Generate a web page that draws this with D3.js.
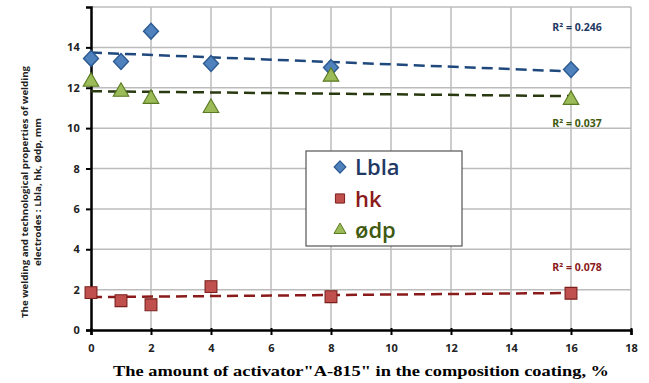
<!DOCTYPE html>
<html>
<head>
<meta charset="utf-8">
<script src="https://cdn.jsdelivr.net/npm/d3@7"></script>
<style>
  body { margin: 0; background: #fff; }
  text { font-family: "Open Sans", "DejaVu Sans", sans-serif; }
</style>
</head>
<body>
<svg id="chart" width="649" height="383"></svg>
<script>
// values
const amounts = [0, 1, 2, 4, 8, 16];
const lbla = [13.45, 13.3, 14.8, 13.2, 13.0, 12.9];
const hk = [1.85, 1.45, 1.25, 2.15, 1.65, 1.82];
const odp = [12.3, 11.8, 11.45, 11.0, 12.55, 11.4];
const r2Labels = ["R² = 0.246", "R² = 0.078", "R² = 0.037"];
const seriesNames = ["Lbla", "hk", "ødp"];
const xTicks = [0, 2, 4, 6, 8, 10, 12, 14, 16, 18];
const yTicks = [0, 2, 4, 6, 8, 10, 12, 14];

const svg = d3.select('#chart');
const margin = { top: 7, right: 18, bottom: 53, left: 91 };
const width = 649 - margin.left - margin.right;
const height = 383 - margin.top - margin.bottom;

const x = d3.scaleLinear().domain([0, 18]).range([margin.left, margin.left + width]);
const y = d3.scaleLinear().domain([0, 16]).range([margin.top + height, margin.top]);

// grid
const grid = svg.append('g');
grid.selectAll('.vg').data(d3.range(2, 19, 2)).enter().append('line')
  .attr('x1', d => x(d)).attr('x2', d => x(d))
  .attr('y1', y(0)).attr('y2', y(16))
  .attr('stroke', '#bcbcbc').attr('stroke-width', 1.5);
grid.selectAll('.hg').data(d3.range(2, 17, 2)).enter().append('line')
  .attr('x1', x(0)).attr('x2', x(18))
  .attr('y1', d => y(d)).attr('y2', d => y(d))
  .attr('stroke', '#bcbcbc').attr('stroke-width', 1.5);

// axes
const xAxis = d3.axisBottom(x).tickValues(xTicks).tickSize(5).tickFormat(d3.format('d'));
const gx = svg.append('g').attr('transform', `translate(0,${y(0)})`).call(xAxis);
gx.select('.domain').attr('stroke', '#000').attr('stroke-width', 2.5);
gx.selectAll('.tick line').attr('stroke', '#000').attr('stroke-width', 2).attr('y1', -2);
gx.selectAll('.tick text').attr('dy', '1.25em').style('font-size', '11px').style('font-weight', 'bold').attr('fill', '#222');

const yAxis = d3.axisLeft(y).tickValues(yTicks).tickSize(5).tickFormat(d3.format('d'));
const gy = svg.append('g').attr('transform', `translate(${x(0)},0)`).call(yAxis);
gy.select('.domain').attr('stroke', '#000').attr('stroke-width', 2.5);
gy.selectAll('.tick line').attr('stroke', '#000').attr('stroke-width', 2);
gy.selectAll('.tick text').attr('dx', '-0.3em').style('font-size', '11px').style('font-weight', 'bold').attr('fill', '#222');

// linear trend lines
function fit(xs, ys) {
  const mx = d3.mean(xs), my = d3.mean(ys);
  const sxy = d3.sum(xs, (v, i) => (v - mx) * (ys[i] - my));
  const sxx = d3.sum(xs, v => (v - mx) * (v - mx));
  const b = sxy / sxx;
  return t => my + b * (t - mx);
}

const series = [
  { name: seriesNames[0], values: lbla, fill: '#4f81bd', stroke: '#2c5a91', trend: '#1f497d', text: '#1f3864', symbol: d3.symbolDiamond, size: 80, r2: r2Labels[0], r2y: 14.8 },
  { name: seriesNames[1], values: hk, fill: '#c0504d', stroke: '#7a1f1c', trend: '#8b1a1a', text: '#8b1a1a', symbol: d3.symbolSquare, size: 140, r2: r2Labels[1], r2y: 2.9 },
  { name: seriesNames[2], values: odp, fill: '#9bbb59', stroke: '#5a7a22', trend: '#2a3a10', text: '#3f5a10', symbol: d3.symbolTriangle, size: 105, r2: r2Labels[2], r2y: 10.05 }
];
const shape = s => s.symbol === d3.symbolDiamond ? ' scale(1.55,0.95)' : '';

series.forEach(s => {
  const f = fit(amounts, s.values);
  svg.append('line')
    .attr('x1', x(0)).attr('x2', x(16))
    .attr('y1', y(f(0))).attr('y2', y(f(16)))
    .attr('stroke', s.trend).attr('stroke-width', 2.5)
    .attr('stroke-dasharray', '11,6');
});

series.forEach(s => {
  svg.append('g').selectAll('path').data(amounts).enter().append('path')
    .attr('d', d3.symbol().type(s.symbol).size(s.size))
    .attr('transform', (d, i) => `translate(${x(d)},${y(s.values[i])})${shape(s)}`)
    .attr('fill', s.fill).attr('stroke', s.stroke).attr('stroke-width', 1.1);
  svg.append('text')
    .attr('x', x(16.2)).attr('y', y(s.r2y))
    .attr('text-anchor', 'middle')
    .style('font-size', '10.5px').style('font-weight', 'bold')
    .attr('fill', s.text)
    .text(s.r2);
});

// legend
const lg = svg.append('g').attr('transform', 'translate(306,151)');
lg.append('rect').attr('width', 156).attr('height', 95)
  .attr('fill', '#fff').attr('stroke', '#555').attr('stroke-width', 1.2);
series.forEach((s, i) => {
  const cy = 16 + i * 31.5;
  lg.append('path')
    .attr('d', d3.symbol().type(s.symbol).size(s.size * 0.6))
    .attr('transform', `translate(34,${cy})${shape(s)}`)
    .attr('fill', s.fill).attr('stroke', s.stroke).attr('stroke-width', 1);
  lg.append('text')
    .attr('x', 49).attr('y', cy + 8)
    .style('font-size', '22px').style('font-weight', 600)
    .attr('fill', s.text)
    .text(s.name);
});

// axis titles
svg.append('text')
  .attr('x', 361).attr('y', 376)
  .attr('text-anchor', 'middle')
  .attr('textLength', 496).attr('lengthAdjust', 'spacingAndGlyphs')
  .style('font-family', '"Liberation Serif", "DejaVu Serif", serif')
  .style('font-size', '15px').style('font-weight', 'bold')
  .text('The amount of activator"A-815" in the composition coating, %');

const yt = svg.append('text')
  .attr('transform', 'translate(28,192) rotate(-90)')
  .attr('text-anchor', 'middle')
  .style('font-size', '9.5px').style('font-weight', 'bold')
  .attr('fill', '#222');
yt.append('tspan').attr('x', 0).attr('y', 0)
  .attr('textLength', 252).attr('lengthAdjust', 'spacingAndGlyphs')
  .text('The welding and technological properties of welding');
yt.append('tspan').attr('x', 0).attr('y', 13)
  .attr('textLength', 148).attr('lengthAdjust', 'spacingAndGlyphs')
  .text('electrodes : Lbla, hk, Ødp, mm');
</script>
</body>
</html>
